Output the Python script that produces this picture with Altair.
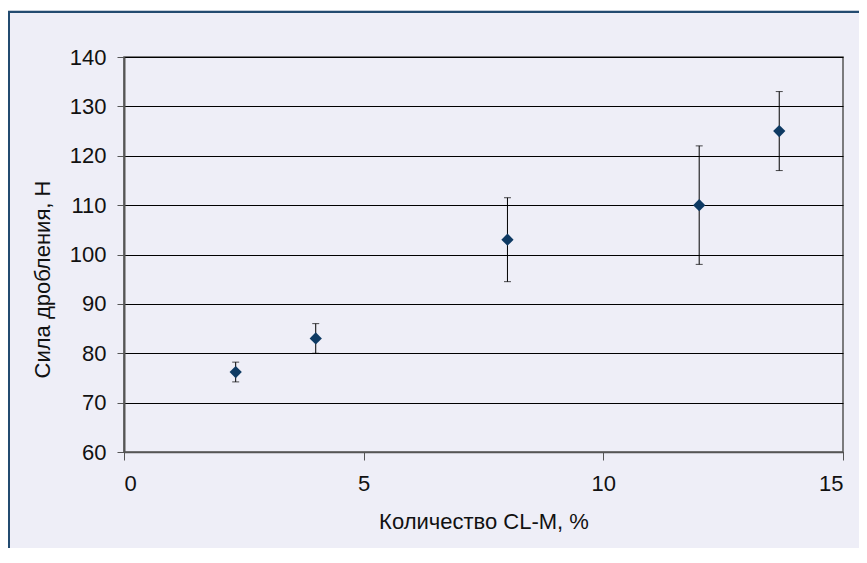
import altair as alt
import pandas as pd

# Data
cl_m = [2.33, 4.0, 8.0, 12.0, 13.67]
force = [76.2, 83.0, 103.0, 110.0, 125.0]
err = [2.0, 3.0, 8.5, 12.0, 8.0]

df = pd.DataFrame({"x": cl_m, "y": force, "e": err})
df["lo"] = df["y"] - df["e"]
df["hi"] = df["y"] + df["e"]

FONT = "Liberation Sans"
FS = 22
W, H = 719, 395

xs = alt.Scale(domain=[0, 15], nice=False, zero=False)
ys = alt.Scale(domain=[60, 140], nice=False, zero=False)

xax = alt.Axis(values=[0, 5, 10, 15], grid=False, title="Количество CL-M, %",
               labelFont=FONT, labelFontSize=FS, labelColor="#111", labelPadding=13,
               tickSize=8, tickColor="#555", domainColor="#555", domainWidth=1.5,
               titleFont=FONT, titleFontSize=FS, titleFontWeight="normal", titleColor="#111",
               titleBaseline="alphabetic", titleY=76, titleX=W / 2, titleAnchor="middle")
yax = alt.Axis(values=list(range(60, 141, 10)), grid=True, gridColor="#000", gridWidth=1,
               title="Сила дробления, Н",
               labelFont=FONT, labelFontSize=FS, labelColor="#111", labelPadding=11,
               tickSize=7, tickColor="#555", domainColor="#555", domainWidth=2,
               titleFont=FONT, titleFontSize=FS, titleFontWeight="normal", titleColor="#111",
               titleAngle=-90, titleBaseline="alphabetic", titleAlign="center",
               titleX=-75, titleY=222)

base = alt.Chart(df)

frame_df = pd.DataFrame({"k": [0]})
frame = alt.Chart(frame_df).mark_rect(fill=None, stroke="#234B70", strokeWidth=2.6, clip=False).encode(
    x=alt.value(-115.3), x2=alt.value(W + 60), y=alt.value(-45.2), y2=alt.value(H + 200))
topstrip = alt.Chart(frame_df).mark_rect(fill="white", clip=False).encode(
    x=alt.value(-120), x2=alt.value(W + 60), y=alt.value(-60), y2=alt.value(-46.5))

rules = base.mark_rule(color="#000", strokeWidth=1).encode(
    x=alt.X("x:Q", scale=xs, axis=xax), y=alt.Y("lo:Q", scale=ys, axis=yax), y2="hi:Q")
cap_lo = base.mark_tick(orient="horizontal", color="#000", size=7, thickness=1).encode(
    x=alt.X("x:Q", scale=xs), y=alt.Y("lo:Q", scale=ys))
cap_hi = base.mark_tick(orient="horizontal", color="#000", size=7, thickness=1).encode(
    x=alt.X("x:Q", scale=xs), y=alt.Y("hi:Q", scale=ys))
pts = base.mark_point(shape="diamond", filled=True, size=150, color="#0E3A63", opacity=1).encode(
    x=alt.X("x:Q", scale=xs), y=alt.Y("y:Q", scale=ys))

chart = alt.layer(rules, cap_lo, cap_hi, pts, frame, topstrip).properties(
    width=W, height=H,
    background="#EEEEF7",
    autosize=alt.AutoSizeParams(type="none"),
    padding={"left": 116, "top": 49, "right": 16, "bottom": 96},
).configure_view(stroke="#555", strokeWidth=1.5)

chart.save("out.html", embed_options={"renderer": "svg", "actions": False})
